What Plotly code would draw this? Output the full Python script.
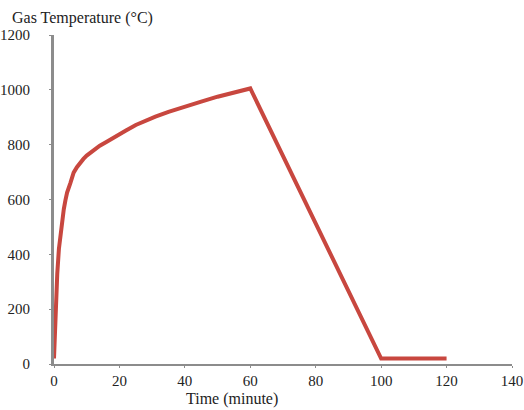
import plotly.graph_objects as go

time_min = [0, 0.25, 0.5, 0.75, 1, 1.5, 2, 2.5, 3, 3.5, 4, 5, 6, 7, 8, 9, 10, 11, 12, 14, 16, 18, 20, 22, 25, 28, 31, 35, 40, 45, 50, 55, 60, 100, 120]
gas_temp = [20, 120, 200, 270, 330, 420, 480, 525, 565, 598, 625, 660, 698, 718, 735, 748, 760, 770, 780, 796, 810, 825, 838, 852, 872, 888, 902, 920, 940, 957, 975, 990, 1005, 20, 20]

x_ticks = [0, 20, 40, 60, 80, 100, 120, 140]
y_ticks = [0, 200, 400, 600, 800, 1000, 1200]

FONT = "Liberation Serif, Times New Roman, serif"
AXIS_GREY = "#8c8c8c"
TXT = "#222222"

fig = go.Figure()
fig.add_trace(go.Scatter(
    x=time_min, y=gas_temp, mode="lines",
    line=dict(color="#c8473f", width=4),
    showlegend=False, hoverinfo="skip",
))

fig.update_layout(
    width=524, height=410,
    margin=dict(l=54, r=12, t=35, b=46),
    paper_bgcolor="white", plot_bgcolor="white",
    font=dict(family=FONT, size=15, color=TXT),
    title=dict(text="Gas Temperature (°C)", x=12/524, xref="container", xanchor="left",
               y=1-17/410, yref="container", yanchor="middle",
               font=dict(family=FONT, size=16, color=TXT)),
    xaxis=dict(range=[0, 140], tickvals=x_ticks, ticktext=[str(v) for v in x_ticks],
               showgrid=False, zeroline=False, showline=True, linecolor=AXIS_GREY, linewidth=2,
               ticks="outside", ticklen=2, tickcolor=AXIS_GREY, tickwidth=1, automargin=False,
               ticklabelstandoff=0, tickfont=dict(family=FONT, size=15, color=TXT)),
    yaxis=dict(range=[0, 1200], tickvals=y_ticks, ticktext=[str(v) for v in y_ticks],
               showgrid=False, zeroline=False, showline=True, linecolor=AXIS_GREY, linewidth=3,
               ticks="outside", ticklen=2, tickcolor=AXIS_GREY, tickwidth=1, automargin=False,
               ticklabelstandoff=16, tickfont=dict(family=FONT, size=15, color=TXT)),
    annotations=[dict(text="Time (minute)", xref="paper", yref="paper",
                      x=(232-54)/458, y=-(399-364)/329, xanchor="center", yanchor="middle",
                      showarrow=False, font=dict(family=FONT, size=16, color=TXT))],
)

fig.write_html("out.html")
